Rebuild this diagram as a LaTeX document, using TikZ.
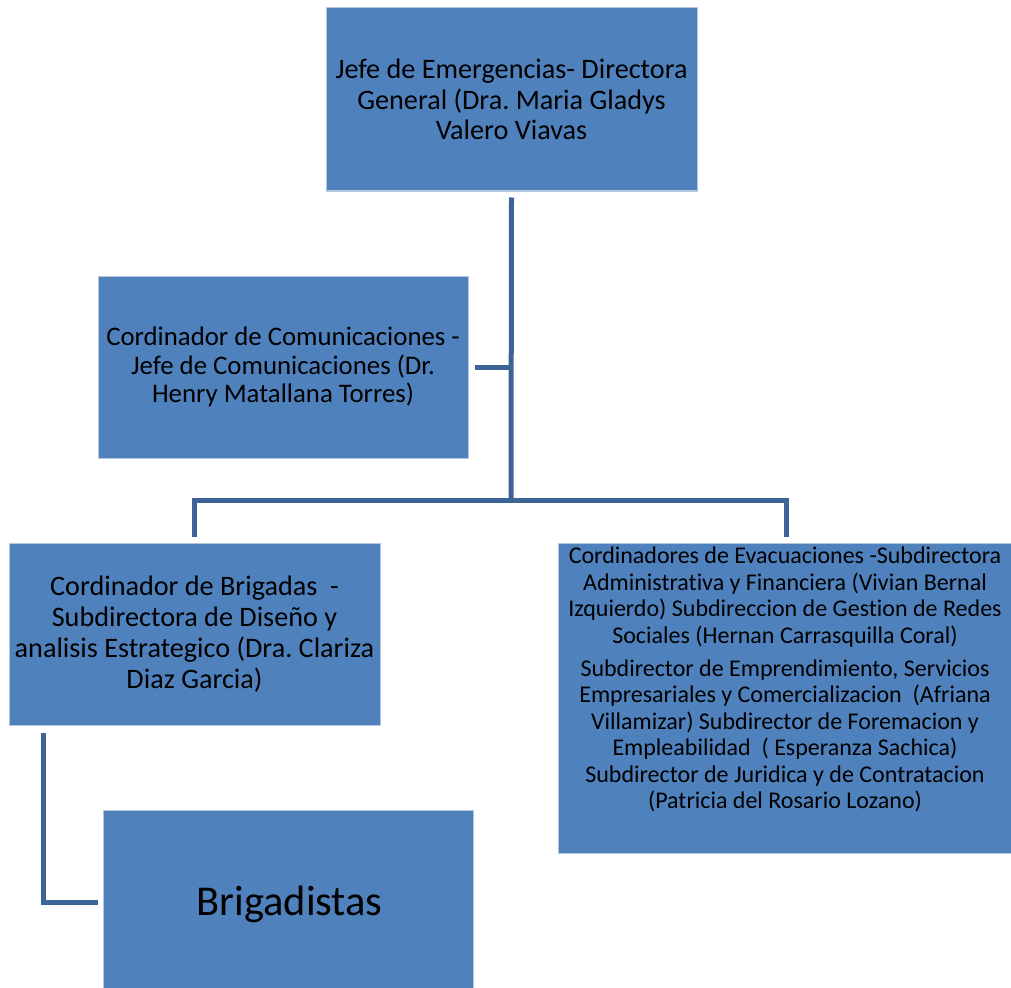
\documentclass[tikz,border=0pt]{standalone}
\usepackage{fontspec}
\setmainfont{Carlito}[Ligatures=NoCommon]
\frenchspacing
\definecolor{boxfill}{HTML}{4F81BD}
\definecolor{boxline}{HTML}{B4C8E2}
\definecolor{conn}{HTML}{3C6496}
\begin{document}
\begin{tikzpicture}[x=1pt,y=-1pt,
  orgbox/.style={draw=boxline,line width=1pt,fill=boxfill,inner sep=0pt,align=center,text=black},
  mid/.style={font=\fontsize{28.2}{30.8}\selectfont},
  link/.style={draw=conn,line width=5pt,line join=miter,line cap=butt}]
\useasboundingbox (0,0) rectangle (1011,987);
\node[orgbox,mid,minimum width=371pt,minimum height=183pt] (top) at (511.5,99.5)
  {Jefe de Emergencias- Directora\\General (Dra. Maria Gladys\\Valero Viavas};
\node[orgbox,font=\fontsize{26.8}{28.7}\selectfont,minimum width=370pt,minimum height=182pt] (comms) at (283,367)
  {Cordinador de Comunicaciones -\\Jefe de Comunicaciones (Dr.\\Henry Matallana Torres)};
\node[orgbox,mid,minimum width=371pt,minimum height=182pt] (brig) at (194.5,634)
  {Cordinador de Brigadas\ \ -\\Subdirectora de Diseño y\\analisis Estrategico (Dra. Clariza\\Diaz Garcia)};
\node[orgbox,minimum width=453pt,minimum height=310pt] (evac) at (784.5,698) {};
\node[inner sep=0pt,align=center,anchor=north,font=\fontsize{24}{26.4}\selectfont] (evactext) at (785,547)
  {Cordinadores de Evacuaciones -Subdirectora\\Administrativa y Financiera (Vivian Bernal\\Izquierdo) Subdireccion de Gestion de Redes\\Sociales (Hernan Carrasquilla Coral)\\[7pt]
   Subdirector de Emprendimiento, Servicios\\Empresariales y Comercializacion\ \ (Afriana\\Villamizar) Subdirector de Foremacion y\\Empleabilidad\ \ ( Esperanza Sachica)\\Subdirector de Juridica y de Contratacion\\(Patricia del Rosario Lozano)};
\node[orgbox,minimum width=370pt,minimum height=178pt] (bdist) at (288,899) {};
\node[inner sep=0pt] (bdisttext) at (289.5,904) {\fontsize{42.5}{48}\selectfont Brigadistas};
\coordinate (topout) at ([yshift=-6pt]top.south);
\coordinate (bus) at (511,500);
\coordinate (commsin) at ([xshift=6pt]comms.east);
\coordinate (brigin) at ([yshift=6pt]brig.north);
\coordinate (evacin) at ([xshift=1.5pt,yshift=6pt]evac.north);
\coordinate (brigout) at ([xshift=35pt,yshift=-7pt]brig.south west);
\coordinate (bdistin) at ([xshift=-5pt,yshift=-3pt]bdist.west);
\draw[link] (topout) -- (bus);
\draw[link] (commsin) -- (commsin -| bus);
\draw[link] (brigin) |- (bus) -| (evacin);
\draw[link] (brigout) |- (bdistin);
\end{tikzpicture}
\end{document}
